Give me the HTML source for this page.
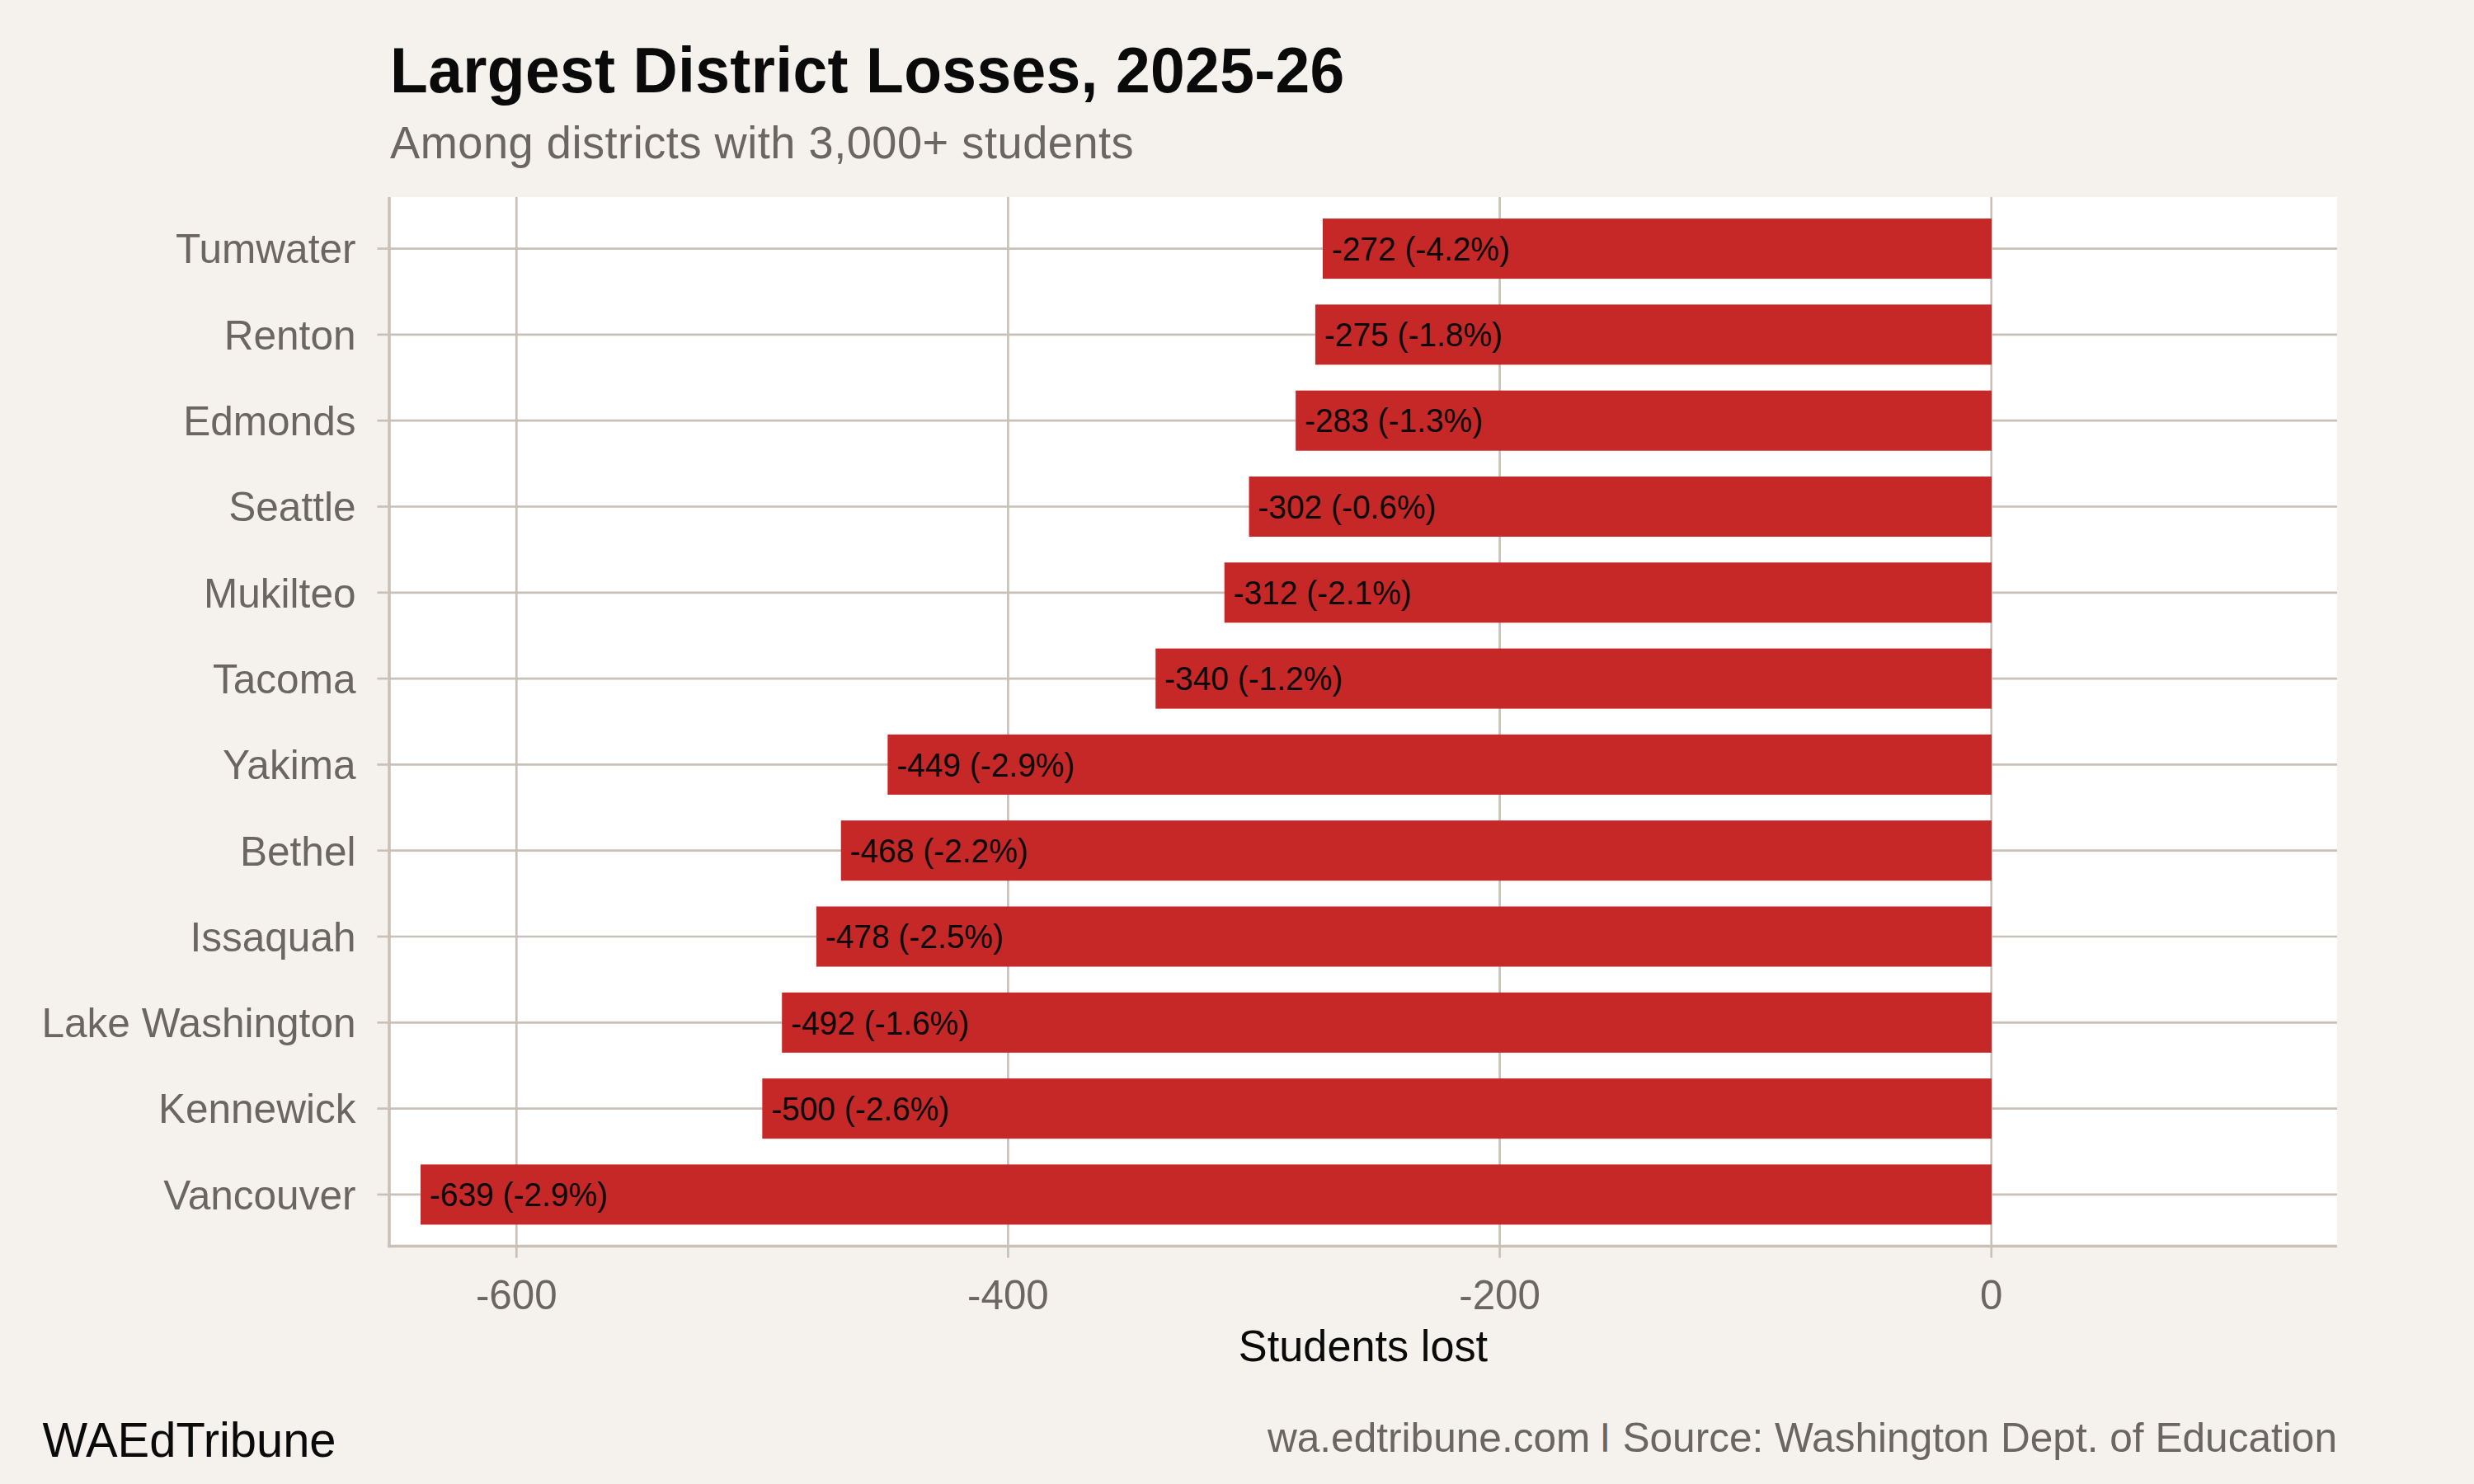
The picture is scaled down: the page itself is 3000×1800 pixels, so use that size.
<!DOCTYPE html>
<html lang="en"><head><meta charset="utf-8"><title>Largest District Losses, 2025-26</title>
<style>html,body{margin:0;padding:0;background:#F5F2ED;}body{width:3000px;height:1800px;overflow:hidden;}svg{display:block;}text{font-family:"Liberation Sans",sans-serif;}</style></head><body>
<svg width="3000" height="1800" viewBox="0 0 3000 1800">
<rect x="0" y="0" width="3000" height="1800" fill="#F5F2ED"/>
<rect x="472.00" y="239.00" width="2362.00" height="1272.50" fill="#FFFFFF"/>
<g stroke="#C9C1B7" stroke-width="2.67" fill="none">
<line x1="472.00" y1="301.58" x2="2834.00" y2="301.58"/>
<line x1="472.00" y1="405.89" x2="2834.00" y2="405.89"/>
<line x1="472.00" y1="510.19" x2="2834.00" y2="510.19"/>
<line x1="472.00" y1="614.49" x2="2834.00" y2="614.49"/>
<line x1="472.00" y1="718.80" x2="2834.00" y2="718.80"/>
<line x1="472.00" y1="823.10" x2="2834.00" y2="823.10"/>
<line x1="472.00" y1="927.40" x2="2834.00" y2="927.40"/>
<line x1="472.00" y1="1031.70" x2="2834.00" y2="1031.70"/>
<line x1="472.00" y1="1136.01" x2="2834.00" y2="1136.01"/>
<line x1="472.00" y1="1240.31" x2="2834.00" y2="1240.31"/>
<line x1="472.00" y1="1344.61" x2="2834.00" y2="1344.61"/>
<line x1="472.00" y1="1448.92" x2="2834.00" y2="1448.92"/>
<line x1="626.27" y1="239.00" x2="626.27" y2="1511.50"/>
<line x1="1222.43" y1="239.00" x2="1222.43" y2="1511.50"/>
<line x1="1818.59" y1="239.00" x2="1818.59" y2="1511.50"/>
<line x1="2414.75" y1="239.00" x2="2414.75" y2="1511.50"/>
</g>
<g fill="#C62828">
<rect x="1603.97" y="265.08" width="811.03" height="73.01"/>
<rect x="1595.03" y="369.38" width="819.97" height="73.01"/>
<rect x="1571.18" y="473.68" width="843.82" height="73.01"/>
<rect x="1514.55" y="577.99" width="900.45" height="73.01"/>
<rect x="1484.74" y="682.29" width="930.26" height="73.01"/>
<rect x="1401.28" y="786.59" width="1013.72" height="73.01"/>
<rect x="1076.37" y="890.90" width="1338.63" height="73.01"/>
<rect x="1019.74" y="995.20" width="1395.26" height="73.01"/>
<rect x="989.93" y="1099.50" width="1425.07" height="73.01"/>
<rect x="948.20" y="1203.81" width="1466.80" height="73.01"/>
<rect x="924.35" y="1308.11" width="1490.65" height="73.01"/>
<rect x="510.02" y="1412.41" width="1904.98" height="73.01"/>
</g>
<g fill="#0A0A0A" font-size="38.9">
<text transform="matrix(1 0 0 1.040 1614.77 315.88)">-272 (-4.2%)</text>
<text transform="matrix(1 0 0 1.040 1605.83 420.19)">-275 (-1.8%)</text>
<text transform="matrix(1 0 0 1.040 1581.98 524.49)">-283 (-1.3%)</text>
<text transform="matrix(1 0 0 1.040 1525.35 628.79)">-302 (-0.6%)</text>
<text transform="matrix(1 0 0 1.040 1495.54 733.10)">-312 (-2.1%)</text>
<text transform="matrix(1 0 0 1.040 1412.08 837.40)">-340 (-1.2%)</text>
<text transform="matrix(1 0 0 1.040 1087.17 941.70)">-449 (-2.9%)</text>
<text transform="matrix(1 0 0 1.040 1030.54 1046.00)">-468 (-2.2%)</text>
<text transform="matrix(1 0 0 1.040 1000.73 1150.31)">-478 (-2.5%)</text>
<text transform="matrix(1 0 0 1.040 959.00 1254.61)">-492 (-1.6%)</text>
<text transform="matrix(1 0 0 1.040 935.15 1358.91)">-500 (-2.6%)</text>
<text transform="matrix(1 0 0 1.040 520.82 1463.22)">-639 (-2.9%)</text>
</g>
<g stroke="#C9C1B7" stroke-width="3.56" fill="none">
<line x1="472.00" y1="239.00" x2="472.00" y2="1513.28"/>
<line x1="470.22" y1="1511.50" x2="2834.00" y2="1511.50"/>
</g>
<g stroke="#C9C1B7" stroke-width="2.67" fill="none">
<line x1="457.40" y1="301.58" x2="472.00" y2="301.58"/>
<line x1="457.40" y1="405.89" x2="472.00" y2="405.89"/>
<line x1="457.40" y1="510.19" x2="472.00" y2="510.19"/>
<line x1="457.40" y1="614.49" x2="472.00" y2="614.49"/>
<line x1="457.40" y1="718.80" x2="472.00" y2="718.80"/>
<line x1="457.40" y1="823.10" x2="472.00" y2="823.10"/>
<line x1="457.40" y1="927.40" x2="472.00" y2="927.40"/>
<line x1="457.40" y1="1031.70" x2="472.00" y2="1031.70"/>
<line x1="457.40" y1="1136.01" x2="472.00" y2="1136.01"/>
<line x1="457.40" y1="1240.31" x2="472.00" y2="1240.31"/>
<line x1="457.40" y1="1344.61" x2="472.00" y2="1344.61"/>
<line x1="457.40" y1="1448.92" x2="472.00" y2="1448.92"/>
<line x1="626.27" y1="1511.50" x2="626.27" y2="1525.70"/>
<line x1="1222.43" y1="1511.50" x2="1222.43" y2="1525.70"/>
<line x1="1818.59" y1="1511.50" x2="1818.59" y2="1525.70"/>
<line x1="2414.75" y1="1511.50" x2="2414.75" y2="1525.70"/>
</g>
<g fill="#6B665F" font-size="49.55" text-anchor="end">
<text x="431.50" y="319.38">Tumwater</text>
<text x="431.50" y="423.69">Renton</text>
<text x="431.50" y="527.99">Edmonds</text>
<text x="431.50" y="632.29">Seattle</text>
<text x="431.50" y="736.60">Mukilteo</text>
<text x="431.50" y="840.90">Tacoma</text>
<text x="431.50" y="945.20">Yakima</text>
<text x="431.50" y="1049.50">Bethel</text>
<text x="431.50" y="1153.81">Issaquah</text>
<text x="431.50" y="1258.11">Lake Washington</text>
<text x="431.50" y="1362.41">Kennewick</text>
<text x="431.50" y="1466.72">Vancouver</text>
</g>
<g fill="#6B665F" font-size="49.3" text-anchor="middle">
<text transform="matrix(1 0 0 1.020 626.27 1587.60)">-600</text>
<text transform="matrix(1 0 0 1.020 1222.43 1587.60)">-400</text>
<text transform="matrix(1 0 0 1.020 1818.59 1587.60)">-200</text>
<text transform="matrix(1 0 0 1.020 2414.75 1587.60)">0</text>
</g>
<text transform="matrix(1 0 0 1.040 1653.00 1651.00)" font-size="52.3" text-anchor="middle" fill="#0A0A0A">Students lost</text>
<text transform="matrix(1 0 0 1.040 473.00 112.00)" font-size="75" font-weight="bold" letter-spacing="0.36" fill="#0A0A0A">Largest District Losses, 2025-26</text>
<text transform="matrix(1 0 0 1.040 473.00 191.70)" font-size="54.17" letter-spacing="0.52" fill="#6B665F">Among districts with 3,000+ students</text>
<text x="2834.00" y="1761.20" font-size="49.6" text-anchor="end" fill="#6B665F">wa.edtribune.com <tspan font-size="35.7" dx="-0.4" dy="-8.06" stroke="#6B665F" stroke-width="1.6">|</tspan><tspan dx="2.6" dy="8.06"> Source: Washington Dept. of Education</tspan></text>
<text transform="matrix(1 0 0 1.030 51.50 1766.80)" font-size="57.9" fill="#0A0A0A">WAEdTribune</text>
</svg></body></html>
